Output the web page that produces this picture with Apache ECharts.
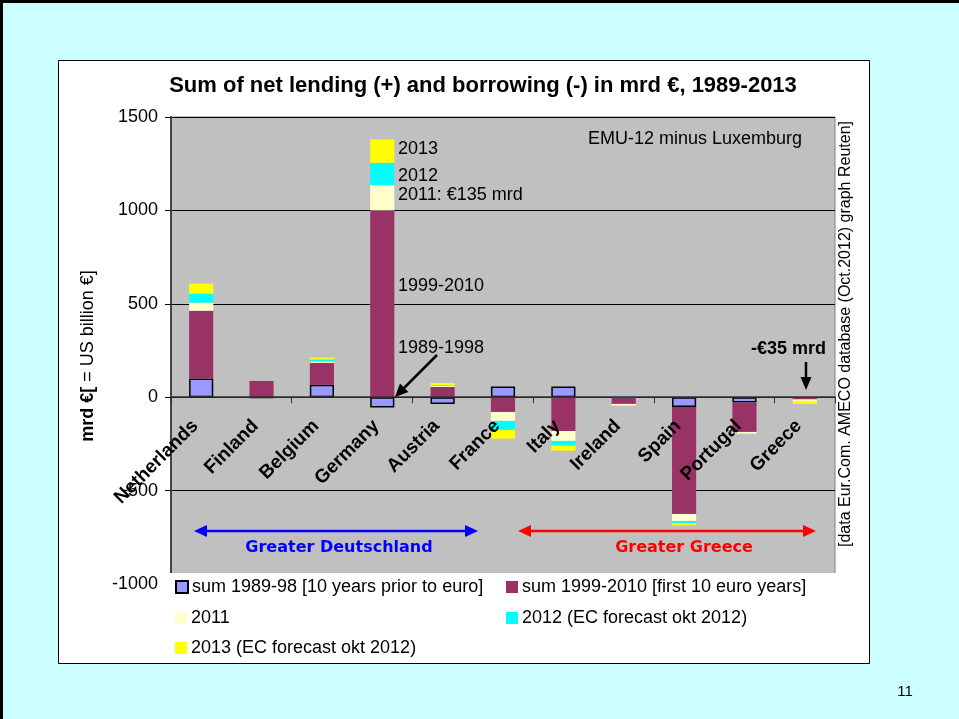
<!DOCTYPE html>
<html>
<head>
<meta charset="utf-8">
<script src="https://cdn.jsdelivr.net/npm/echarts@6/dist/echarts.min.js"></script>
<style>
  html, body { margin: 0; padding: 0; background: #CCFFFF; }
  #chart { width: 959px; height: 719px; }
</style>
</head>
<body>
<div id="chart"></div>
<script>
// Countries of EMU-12 (minus Luxemburg), ordered from largest lender to largest borrower
const categories = ['Netherlands', 'Finland', 'Belgium', 'Germany', 'Austria', 'France',
                    'Italy', 'Ireland', 'Spain', 'Portugal', 'Greece'];

// Net lending (+) / borrowing (-), mrd €
const sum1989_98   = [100, -3, 66, -55, -37, 57, 57, '-', -52, -29, '-'];
const sum1999_2010 = [363, 87, 118, 1000, 55, -79, -181, -36, -573, -157, -12];
const year2011     = [43, '-', 7, 135, 6, -48, -53, -9, -38, -9, -8];
const year2012     = [48, '-', 11, 120, 3, -48, -25, 8, -11, '-', '-'];
const year2013     = [54, '-', 10, 125, 12, -47, -27, '-', -12, '-', -15];

const yTicks = { min: -1000, max: 1500, interval: 500 };

const seriesNames = [
  'sum 1989-98 [10 years prior to euro]',
  'sum 1999-2010 [first 10 euro years]',
  '2011',
  '2012 (EC forecast okt 2012)',
  '2013 (EC forecast okt 2012)'
];
const seriesData = [sum1989_98, sum1999_2010, year2011, year2012, year2013];
const seriesColors = ['#9999FF', '#993366', '#FFFFCC', '#00FFFF', '#FFFF00'];

const FONT = '"Liberation Sans", Arial, sans-serif';
const WIDE = '"DejaVu Sans", Verdana, sans-serif';
const chart = echarts.init(document.getElementById('chart'));

const series = seriesNames.map((name, i) => ({
  name: name,
  type: 'bar',
  stack: 'total',
  barWidth: '40%',
  data: seriesData[i],
  itemStyle: i === 0
    ? { color: seriesColors[i], borderColor: '#000', borderWidth: 1.5 }
    : { color: seriesColors[i] },
  emphasis: { disabled: true },
  animation: false
}));

const legendPos = [[175, 578], [506, 578], [175, 609], [506, 609], [175, 639]];
const legends = seriesNames.map((name, i) => ({
  data: [name],
  left: legendPos[i][0],
  top: legendPos[i][1],
  padding: 0,
  icon: 'rect',
  itemWidth: 12,
  itemHeight: 12,
  itemGap: 0,
  selectedMode: false,
  z: 110,
  textStyle: { fontFamily: FONT, fontSize: 18, color: '#000', padding: [0, 0, 0, -1] }
}));

function textEl(x, y, text, opts) {
  return Object.assign({
    type: 'text', x: x, y: y, z: 120,
    style: Object.assign({
      text: text, fontFamily: FONT, fontSize: 18, fill: '#000',
      align: 'left', verticalAlign: 'middle'
    }, opts && opts.style)
  }, opts && opts.el);
}
function lineEl(x1, y1, x2, y2, color, w) {
  return { type: 'line', z: 120, shape: { x1, y1, x2, y2 },
           style: { stroke: color, lineWidth: w } };
}
function headEl(points, color) {
  return { type: 'polygon', z: 120, shape: { points }, style: { fill: color } };
}

const graphics = [
  // slide frame and chart area
  lineEl(0, 1.5, 959, 1.5, '#000', 3),
  lineEl(1.5, 0, 1.5, 719, '#000', 3),
  { type: 'rect', z: -10, shape: { x: 58.5, y: 60.5, width: 811, height: 603 },
    style: { fill: '#fff', stroke: '#000', lineWidth: 1 } },
  // white legend band over the lower part of the plot
  { type: 'rect', z: 100, shape: { x: 162, y: 573, width: 675, height: 89 },
    style: { fill: '#fff' } },

  // title
  textEl(483, 86, 'Sum of net lending (+) and borrowing (-) in mrd €, 1989-2013',
    { style: { fontSize: 22, fontWeight: 'bold', align: 'center' } }),
  // y axis title
  {
    type: 'text', x: 88, y: 356, rotation: Math.PI / 2, z: 120,
    style: {
      text: '{b|mrd €[} = US billion €]',
      fontFamily: FONT, fontSize: 18, fill: '#000',
      align: 'center', verticalAlign: 'middle',
      rich: { b: { fontFamily: FONT, fontSize: 18, fontWeight: 'bold', fill: '#000' } }
    }
  },
  // source note
  {
    type: 'text', x: 846, y: 334, rotation: Math.PI / 2, z: 120,
    style: {
      text: '[data Eur.Com. AMECO database (Oct.2012) graph Reuten]',
      fontFamily: FONT, fontSize: 16, fill: '#000',
      align: 'center', verticalAlign: 'middle'
    }
  },
  textEl(588, 139, 'EMU-12 minus Luxemburg'),

  // Germany annotations
  textEl(398, 149, '2013'),
  textEl(398, 176, '2012'),
  textEl(398, 195, '2011: €135 mrd'),
  textEl(398, 286, '1999-2010'),
  textEl(398, 348, '1989-1998'),
  lineEl(437, 355, 402, 390, '#000', 2.5),
  headEl([[395, 397], [408.4, 392], [400, 383.6]], '#000'),

  // Greece annotation
  textEl(826, 349, '-€35 mrd', { style: { fontWeight: 'bold', align: 'right' } }),
  lineEl(806, 362, 806, 380, '#000', 2.5),
  headEl([[806, 390], [800.5, 377], [811.5, 377]], '#000'),

  // country groups
  lineEl(204, 531, 468, 531, '#0000FF', 2.5),
  headEl([[194, 531], [207, 525], [207, 537]], '#0000FF'),
  headEl([[478, 531], [465, 525], [465, 537]], '#0000FF'),
  textEl(339, 548, 'Greater Deutschland',
    { style: { fontFamily: WIDE, fontSize: 16, fontWeight: 'bold', fill: '#0000FF', align: 'center' } }),
  lineEl(528, 531, 806, 531, '#FF0000', 2.5),
  headEl([[518, 531], [531, 525], [531, 537]], '#FF0000'),
  headEl([[816, 531], [803, 525], [803, 537]], '#FF0000'),
  textEl(684, 548, 'Greater Greece',
    { style: { fontFamily: WIDE, fontSize: 16, fontWeight: 'bold', fill: '#FF0000', align: 'center' } }),

  // page number
  textEl(905, 692, '11', { style: { fontSize: 15, align: 'center' } })
];

chart.setOption({
  backgroundColor: '#CCFFFF',
  animation: false,
  grid: {
    left: 171, right: 124, top: 117, bottom: 135,
    show: true, backgroundColor: '#C0C0C0', borderColor: '#808080', borderWidth: 1
  },
  xAxis: {
    type: 'category',
    data: categories,
    z: 3,
    axisLine: { onZero: true, lineStyle: { color: '#333', width: 1.5 } },
    axisTick: { show: true, length: 6, lineStyle: { color: '#333' } },
    axisLabel: { show: false },
    splitLine: { show: false }
  },
  yAxis: {
    type: 'value',
    min: yTicks.min, max: yTicks.max, interval: yTicks.interval,
    axisLine: { show: true, lineStyle: { color: '#444', width: 2 } },
    axisTick: { show: true, length: 6, lineStyle: { color: '#000' } },
    axisLabel: { fontFamily: FONT, fontSize: 18, color: '#000', margin: 13,
                 formatter: v => String(v) },
    splitLine: { lineStyle: { color: '#000', width: 1 } }
  },
  legend: legends,
  series: series
});

// Category names sit just under the zero line, slanted at 45°
const zeroY = chart.convertToPixel({ yAxisIndex: 0 }, 0);
const categoryLabels = categories.map(name => ({
  type: 'text',
  x: chart.convertToPixel({ xAxisIndex: 0 }, name) - 6,
  y: zeroY + 26,
  rotation: Math.PI / 4,
  z: 115,
  style: {
    text: name, fontFamily: FONT, fontSize: 19, fontWeight: 'bold', fill: '#000',
    align: 'right', verticalAlign: 'middle'
  }
}));

chart.setOption({ graphic: graphics.concat(categoryLabels) });
</script>
</body>
</html>
